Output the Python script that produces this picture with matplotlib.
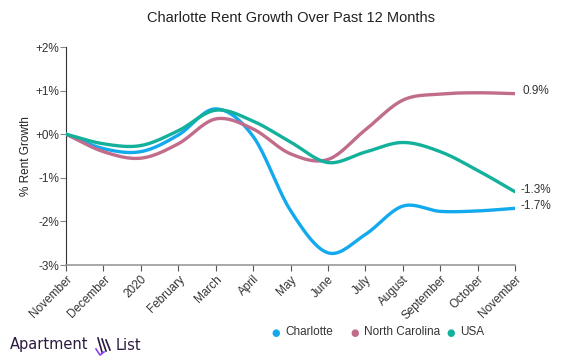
import numpy as np
import matplotlib
matplotlib.use('Agg')
import matplotlib.pyplot as plt

plt.rcParams['font.family'] = ['Liberation Sans', 'DejaVu Sans']

months = ['November', 'December', '2020', 'February', 'March', 'April', 'May',
          'June', 'July', 'August', 'September', 'October', 'November']
charlotte = [0.0, -0.33, -0.4, -0.02, 0.58, -0.05, -1.75, -2.72, -2.3, -1.65, -1.77, -1.76, -1.7]
north_carolina = [0.0, -0.4, -0.55, -0.22, 0.35, 0.12, -0.45, -0.58, 0.1, 0.78, 0.92, 0.95, 0.93]
usa = [0.0, -0.22, -0.26, 0.08, 0.55, 0.3, -0.18, -0.65, -0.41, -0.19, -0.4, -0.83, -1.32]
yticks = [-3, -2, -1, 0, 1, 2]
ytick_labels = ['-3%', '-2%', '-1%', '+0%', '+1%', '+2%']
end_labels = ['-1.7%', '0.9%', '-1.3%']

colors = {'Charlotte': '#12a9ee', 'North Carolina': '#c06c8a', 'USA': '#13b19c'}


def smooth(y, n=20):
    # catmull-rom through the monthly points, only for drawing
    y = np.asarray(y, float)
    x = np.arange(len(y), dtype=float)
    yp = np.concatenate([[2 * y[0] - y[1]], y, [2 * y[-1] - y[-2]]])
    xs, ys = [], []
    for i in range(len(y) - 1):
        p0, p1, p2, p3 = yp[i], yp[i + 1], yp[i + 2], yp[i + 3]
        t = np.linspace(0, 1, n, endpoint=False)
        seg = 0.5 * ((2 * p1) + (-p0 + p2) * t + (2 * p0 - 5 * p1 + 4 * p2 - p3) * t ** 2
                     + (-p0 + 3 * p1 - 3 * p2 + p3) * t ** 3)
        xs.append(x[i] + t)
        ys.append(seg)
    xs.append([x[-1]])
    ys.append([y[-1]])
    return np.concatenate(xs), np.concatenate(ys)


fig = plt.figure(figsize=(5.64, 3.64), dpi=100)
ax = fig.add_axes([66 / 564, 1 - 265 / 364, (515 - 66) / 564, (265 - 47) / 364])

series = [('Charlotte', charlotte), ('North Carolina', north_carolina), ('USA', usa)]
for name, vals in series:
    xs, ys = smooth(vals)
    ax.plot(xs, ys, color=colors[name], lw=2.4, solid_capstyle='round', zorder=3)

ax.set_xlim(0, len(months) - 1)
ax.set_ylim(-3, 2)
ax.set_xticks(range(len(months)))
ax.set_xticklabels(months, rotation=45, ha='right', rotation_mode='anchor',
                   fontsize=8.5, color='#333333')
ax.set_yticks(yticks)
ax.set_yticklabels(ytick_labels, fontsize=8.5, color='#333333')
ax.tick_params(axis='x', length=4, color='#555555', pad=2)
ax.tick_params(axis='y', length=4, color='#888888', pad=1)
for s in ['top', 'right']:
    ax.spines[s].set_visible(False)
ax.spines['left'].set_color('#333333')
ax.spines['bottom'].set_color('#999999')
ax.spines['bottom'].set_linewidth(1.2)
ax.set_ylabel('% Rent Growth', fontsize=8.5, color='#222222', labelpad=2)

# end labels
ax.text(12.2, north_carolina[-1] + 0.05, end_labels[1], fontsize=8.5, color='#333333', va='center')
ax.text(12.15, usa[-1] + 0.05, end_labels[2], fontsize=8.5, color='#333333', va='center')
ax.text(12.15, charlotte[-1] + 0.05, end_labels[0], fontsize=8.5, color='#333333', va='center')

fig.text(0.516, 1 - 18 / 364, 'Charlotte Rent Growth Over Past 12 Months',
         ha='center', va='center', fontsize=10.5, color='#222222')

# legend
leg_x = [276, 355, 451]
for (name, _), lx in zip(series, leg_x):
    fig.text(lx / 564, 1 - 333 / 364, '\u25cf', color=colors[name], fontsize=7,
             ha='center', va='center', family='DejaVu Sans')
    fig.text((lx + 9) / 564, 1 - 332 / 364, name, color='#333333', fontsize=8.5,
             ha='left', va='center')

# logo
fig.text(10 / 564, 1 - 345 / 364, 'Apartment', color='#2b1a40', fontsize=10.5,
         ha='left', va='center', family='DejaVu Sans')
fig.text(116 / 564, 1 - 345 / 364, 'List', color='#2b1a40', fontsize=10.5,
         ha='left', va='center', family='DejaVu Sans')
lx0 = 98
for k in range(3):
    fig.add_artist(plt.Line2D([(lx0 + 4 * k) / 564, (lx0 + 4 * k + 4) / 564],
                              [1 - (338 + k) / 364, 1 - (352 - k) / 364],
                              color='#2b1a40', lw=1.2))
fig.add_artist(plt.Line2D([(lx0 - 2) / 564, (lx0 + 2) / 564, (lx0 + 6) / 564],
                          [1 - 349 / 364, 1 - 355 / 364, 1 - 352 / 364],
                          color='#8a3ff0', lw=1.2))

fig.savefig('out.png', dpi=100)
